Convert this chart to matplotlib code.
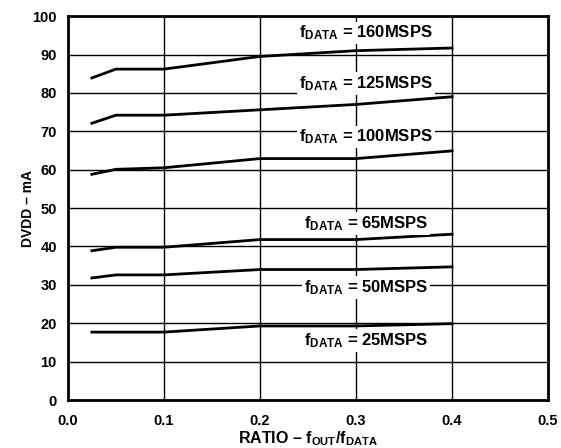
import matplotlib.pyplot as plt
import numpy as np

plt.rcParams['font.family'] = 'Liberation Sans'
plt.rcParams['font.weight'] = 'bold'
plt.rcParams['mathtext.fontset'] = 'custom'
plt.rcParams['mathtext.rm'] = 'Liberation Sans:bold'
plt.rcParams['mathtext.it'] = 'Liberation Sans:bold'
plt.rcParams['mathtext.bf'] = 'Liberation Sans:bold'
plt.rcParams['mathtext.default'] = 'rm'

ratio = [0.025, 0.05, 0.1, 0.2, 0.3, 0.4]
i_160 = [83.9, 86.2, 86.2, 89.5, 91.0, 91.7]
i_125 = [72.1, 74.2, 74.2, 75.6, 77.0, 79.0]
i_100 = [58.8, 60.1, 60.5, 62.9, 62.9, 64.9]
i_65 = [38.9, 39.8, 39.8, 41.8, 41.8, 43.2]
i_50 = [31.8, 32.6, 32.6, 34.0, 34.0, 34.7]
i_25 = [17.7, 17.7, 17.7, 19.3, 19.3, 19.9]

labels = ['160MSPS', '125MSPS', '100MSPS', '65MSPS', '50MSPS', '25MSPS']
label_y = [95.6, 82.5, 68.5, 46.0, 29.4, 15.6]

fig = plt.figure(figsize=(5.61, 4.48), dpi=100)
ax = fig.add_axes([0.121, 0.107, 0.856, 0.857])

for ys in [i_160, i_125, i_100, i_65, i_50, i_25]:
    ax.plot(ratio, ys, color='black', lw=2, zorder=3)

for lab, y in zip(labels, label_y):
    ax.text(0.3105, y, r'f$_{\mathrm{DATA}}$ = ' + lab, ha='center', va='center',
            fontsize=12, fontweight='bold', zorder=4,
            bbox=dict(facecolor='white', edgecolor='none', pad=1.5))

ax.set_xlim(0, 0.5)
ax.set_ylim(0, 100)
ax.set_xticks(np.arange(0, 0.51, 0.1))
ax.set_yticks(range(0, 101, 10))
ax.xaxis.set_major_formatter(plt.FormatStrFormatter('%.1f'))
ax.grid(True, color='black', lw=1)
ax.tick_params(length=0, labelsize=10.5)
ax.tick_params(axis='x', pad=10)
ax.tick_params(axis='y', pad=8)
for lbl in ax.get_xticklabels() + ax.get_yticklabels():
    lbl.set_fontweight('bold')
for s in ax.spines.values():
    s.set_linewidth(2)

ax.set_ylabel('DVDD – mA', fontsize=10, fontweight='bold', labelpad=-2)
ax.set_xlabel(r'RATIO – f$_{\mathrm{OUT}}$/f$_{\mathrm{DATA}}$', fontsize=11.5,
              fontweight='bold', labelpad=1)

fig.savefig('out.png', dpi=100)
